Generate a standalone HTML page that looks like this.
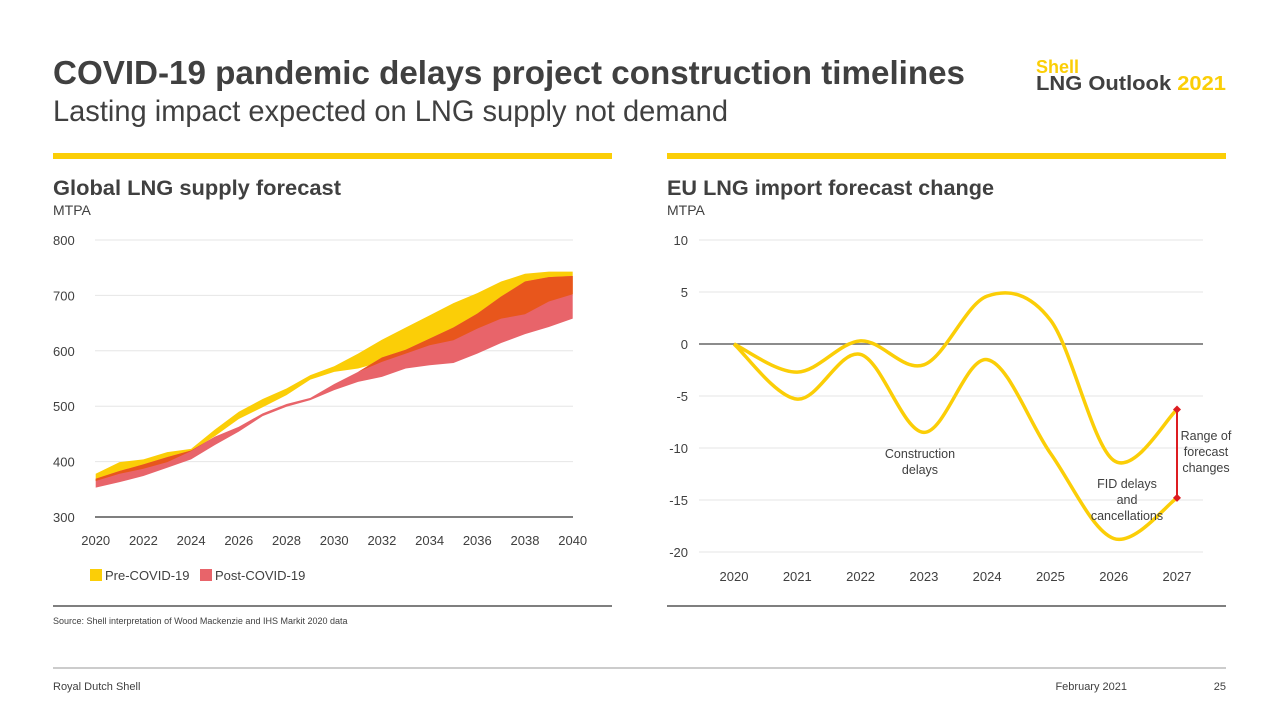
<!DOCTYPE html>
<html><head><meta charset="utf-8"><style>
html,body{margin:0;padding:0;background:#fff}
svg{display:block;font-family:"Liberation Sans",sans-serif}
</style></head><body>
<svg id="page" width="1280" height="720" viewBox="0 0 1280 720" xmlns="http://www.w3.org/2000/svg">
<text x="53" y="84" font-size="33" font-weight="bold" fill="#404040" textLength="912" lengthAdjust="spacingAndGlyphs">COVID-19 pandemic delays project construction timelines</text>
<text x="53" y="121" font-size="30" fill="#404040" textLength="675" lengthAdjust="spacingAndGlyphs" style="font-weight:300">Lasting impact expected on LNG supply not demand</text>
<text x="1036" y="73" font-size="18" font-weight="bold" fill="#fbce07">Shell</text>
<text x="1036" y="90" font-size="20" font-weight="bold" fill="#404040" textLength="190" lengthAdjust="spacingAndGlyphs">LNG Outlook <tspan fill="#fbce07">2021</tspan></text>
<rect x="53" y="153" width="559" height="6" fill="#fbce07"/>
<rect x="667" y="153" width="559" height="6" fill="#fbce07"/>
<text x="53" y="195" font-size="21" font-weight="bold" fill="#404040" textLength="288" lengthAdjust="spacingAndGlyphs">Global LNG supply forecast</text>
<text x="53" y="215" font-size="14" fill="#404040">MTPA</text>
<text x="667" y="195" font-size="21" font-weight="bold" fill="#404040" textLength="327" lengthAdjust="spacingAndGlyphs">EU LNG import forecast change</text>
<text x="667" y="215" font-size="14" fill="#404040">MTPA</text>
<g id="left"></g>
<g id="right"></g>
<line x1="53" y1="606" x2="612" y2="606" stroke="#555" stroke-width="1.5"/>
<line x1="667" y1="606" x2="1226" y2="606" stroke="#555" stroke-width="1.5"/>
<text x="53" y="624" font-size="9" fill="#404040">Source: Shell interpretation of Wood Mackenzie and IHS Markit 2020 data</text>
<line x1="53" y1="668" x2="1226" y2="668" stroke="#999" stroke-width="1"/>
<text x="53" y="690" font-size="11" fill="#404040">Royal Dutch Shell</text>
<text x="1127" y="690" font-size="11" fill="#404040" text-anchor="end">February 2021</text>
<text x="1226" y="690" font-size="11" fill="#404040" text-anchor="end">25</text>
</svg>
<script>
const NS='http://www.w3.org/2000/svg';
// Left chart data
const supplyYears=[2020,2021,2022,2023,2024,2025,2026,2027,2028,2029,2030,2031,2032,2033,2034,2035,2036,2037,2038,2039,2040];
const preHigh=[378,399,404,417,423,458,490,513,532,556,572,595,620,642,664,686,704,725,739,743,743];
const preLow=[365,378,387,399,419,446,477,498,520,548,562,568,580,595,610,619,640,658,666,689,702];
const postHigh=[369,383,395,408,420,445,463,487,504,515,540,562,588,602,622,642,667,698,725,733,735];
const postLow=[353,363,374,389,404,430,454,482,499,511,529,544,553,568,574,578,595,614,630,643,658];
const supplyTicks=[300,400,500,600,700,800];
const supplyXTicks=[2020,2022,2024,2026,2028,2030,2032,2034,2036,2038,2040];
// Right chart data
const euYears=[2020,2021,2022,2023,2024,2025,2026,2027];
const euHigh=[0,-2.7,0.3,-2,4.6,2.3,-11.2,-6.3];
const euLow=[0,-5.3,-1,-8.5,-1.5,-10.5,-18.7,-14.8];
const euTicks=[10,5,0,-5,-10,-15,-20];

function el(tag,attrs,parent,text){const e=document.createElementNS(NS,tag);for(const k in attrs)e.setAttribute(k,attrs[k]);if(text!==undefined)e.textContent=text;parent.appendChild(e);return e;}

// left
const L=document.getElementById('left');
const lx=y=>95.7+(y-2020)*(572.7-95.7)/20;
const ly=v=>517-(v-300)*(517-240)/500;
supplyTicks.forEach(t=>{
  const g=el('line',{x1:95,x2:573,y1:ly(t),y2:ly(t),stroke:t===300?'#555':'#e6e6e6','stroke-width':t===300?1.5:1},L);
  
  
  const tx=el('text',{x:53,y:ly(t)+5,'font-size':13,fill:'#404040'},L,String(t));
  
  
});
function band(hi,lo,color,name){
  let d='';
  supplyYears.forEach((y,i)=>{d+=(i?'L':'M')+lx(y)+','+ly(hi[i]);});
  for(let i=supplyYears.length-1;i>=0;i--)d+='L'+lx(supplyYears[i])+','+ly(lo[i]);
  const p=el('path',{d:d+'Z',fill:color},L);
  
  
}
band(preHigh,preLow,'#fbce07','pre-covid-band');
band(postHigh,postLow,'#e8646a','post-covid-band');
const ovH=preHigh.map((v,i)=>Math.min(v,postHigh[i]));
const ovL=preLow.map((v,i)=>Math.max(v,postLow[i]));
const ovL2=ovL.map((v,i)=>Math.min(v,ovH[i]));
band(ovH,ovL2,'#e8561c','overlap-band');
supplyXTicks.forEach(y=>{
  const t=el('text',{x:lx(y),y:545,'font-size':13,fill:'#404040','text-anchor':'middle'},L,String(y));
  
  
});
[['#fbce07','Pre-COVID-19',90,'legend-pre-covid'],['#e8646a','Post-COVID-19',200,'legend-post-covid']].forEach(([c,lab,x,n])=>{
  const g=el('g',{},L);
  
  
  el('rect',{x:x,y:569,width:12,height:12,fill:c},g);
  el('text',{x:x+15,y:580,'font-size':13,fill:'#404040'},g,lab);
});

// right
const R=document.getElementById('right');
const rx=y=>734+(y-2020)*(1177-734)/7;
const ry=v=>344-v*10.4;
euTicks.forEach(t=>{
  const g=el('line',{x1:699,x2:1203,y1:ry(t),y2:ry(t),stroke:t===0?'#666':'#e6e6e6','stroke-width':t===0?1.5:1},R);
  
  
  const tx=el('text',{x:688,y:ry(t)+5,'font-size':13,fill:'#404040','text-anchor':'end'},R,String(t));
  
  
});
function smooth(vals){
  const P=euYears.map((y,i)=>[rx(y),ry(vals[i])]);
  let d='M'+P[0][0]+','+P[0][1];
  for(let i=0;i<P.length-1;i++){
    const p0=P[i-1]||P[i],p1=P[i],p2=P[i+1],p3=P[i+2]||P[i+1];
    const c1=[p1[0]+(p2[0]-p0[0])/6,p1[1]+(p2[1]-p0[1])/6];
    const c2=[p2[0]-(p3[0]-p1[0])/6,p2[1]-(p3[1]-p1[1])/6];
    d+=`C${c1[0]},${c1[1]} ${c2[0]},${c2[1]} ${p2[0]},${p2[1]}`;
  }
  return d;
}
[[euHigh,'eu-upper-line'],[euLow,'eu-lower-line']].forEach(([v,n])=>{
  const p=el('path',{d:smooth(v),fill:'none',stroke:'#fbce07','stroke-width':3.5},R);
  
  
});
const last=euYears.length-1;
const rb=el('line',{x1:rx(euYears[last]),x2:rx(euYears[last]),y1:ry(euHigh[last]),y2:ry(euLow[last]),stroke:'#dd1d21','stroke-width':2},R);


[euHigh[last],euLow[last]].forEach(v=>{
  const x=rx(euYears[last]),y=ry(v);
  const dm=el('path',{d:`M${x},${y-4}L${x+4},${y}L${x},${y+4}L${x-4},${y}Z`,fill:'#dd1d21'},R);
  
  
});
euYears.forEach(y=>{
  const t=el('text',{x:rx(y),y:581,'font-size':13,fill:'#404040','text-anchor':'middle'},R,String(y));
  
  
});
function note(lines,x,y,name){
  const t=el('text',{'font-size':12.5,fill:'#404040','text-anchor':'middle'},R);
  
  
  lines.forEach((s,i)=>el('tspan',{x:x,y:y+i*16},t,s));
}
note(['Construction','delays'],920,458,'annotation-construction-delays');
note(['FID delays','and','cancellations'],1127,488,'annotation-fid-delays');
note(['Range of','forecast','changes'],1206,440,'annotation-range');
</script>
</body></html>
